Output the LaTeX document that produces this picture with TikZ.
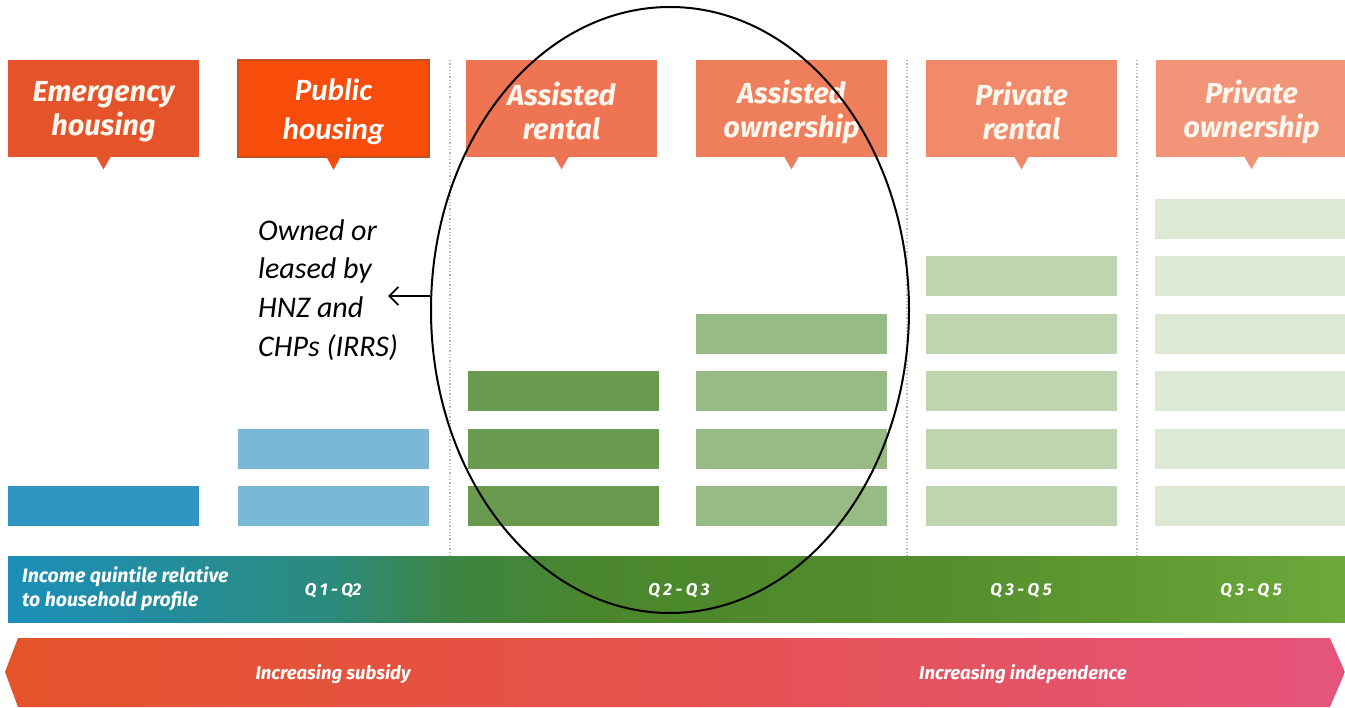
\documentclass[tikz,border=0pt]{standalone}
\usepackage{fontspec}
\setmainfont{Fira Sans}
\newfontfamily\carlito{Carlito}
\usetikzlibrary{shapes.geometric,arrows.meta}
\definecolor{hEm}{HTML}{E4532A}
\definecolor{hPub}{HTML}{F84C0A}
\definecolor{hPubB}{HTML}{C4521E}
\definecolor{hAR}{HTML}{EE7453}
\definecolor{hAO}{HTML}{EF7E5C}
\definecolor{hPR}{HTML}{F08A6B}
\definecolor{hPO}{HTML}{F29477}
\definecolor{bEm}{HTML}{2E96C0}
\definecolor{bPub}{HTML}{7BB8D6}
\definecolor{bAR}{HTML}{6A9A4E}
\definecolor{bAO}{HTML}{98BA85}
\definecolor{bPR}{HTML}{BED5B0}
\definecolor{bPO}{HTML}{DDE8D5}
\definecolor{dotc}{HTML}{B5C2A5}
\definecolor{txtw}{HTML}{FFF6EE}
\definecolor{ic1}{HTML}{1B8FBA}
\definecolor{ic2}{HTML}{2C8B7E}
\definecolor{ic3}{HTML}{3D8544}
\definecolor{ic4}{HTML}{4A862C}
\definecolor{ic5}{HTML}{528C2C}
\definecolor{ic6}{HTML}{5E9A32}
\definecolor{ic7}{HTML}{6DA83C}
\definecolor{ar1}{HTML}{E4532A}
\definecolor{ar2}{HTML}{E5524F}
\definecolor{ar3}{HTML}{E5547C}
\pgfdeclarehorizontalshading{incomeshade}{100bp}{color(0bp)=(ic1); color(25bp)=(ic1); color(37bp)=(ic2); color(41.5bp)=(ic3); color(47bp)=(ic4); color(58bp)=(ic5); color(67bp)=(ic6); color(75bp)=(ic7); color(100bp)=(ic7)}
\pgfdeclarehorizontalshading{arrowshade}{100bp}{color(0bp)=(ar1); color(25bp)=(ar1); color(50bp)=(ar2); color(75bp)=(ar3); color(100bp)=(ar3)}
\tikzset{
  headbox/.style={minimum width=191pt, minimum height=97pt, inner sep=0pt},
  headtext/.style={inner sep=0pt, text=txtw, align=center, font=\fontsize{29}{34}\selectfont\bfseries\itshape},
  bar/.style={minimum width=191pt, minimum height=40pt, inner sep=0pt, anchor=north west},
  sep/.style={draw=dotc, line width=1.3pt, dotted},
  wtext/.style={text=white, font=\bfseries\itshape},
  qtext/.style={text=white, font=\fontsize{17}{20}\selectfont\bfseries\itshape},
  atext/.style={text=white, font=\fontsize{18.5}{22}\selectfont\bfseries\itshape},
}
\newcommand{\qs}{\hspace{3.5pt}}
\begin{document}
\begin{tikzpicture}[x=1pt,y=-1pt]
\useasboundingbox (0,0) rectangle (1345,708);
\fill[white] (0,0) rectangle (1345,708);
% separators
\coordinate (s1t) at (450,60); \coordinate (s1b) at (450,622);
\coordinate (s2t) at (907,60); \coordinate (s2b) at (907,622);
\coordinate (s3t) at (1137,60); \coordinate (s3b) at (1137,622);
\draw[sep] (s1t) -- (s1b);
\draw[sep] (s2t) -- (s2b);
\draw[sep] (s3t) -- (s3b);
% headers
\node[headbox, fill=hEm] (hEm) at (103.5,108.5) {};
\node[headbox, fill=hPub, draw=hPubB, line width=1.5pt] (hPub) at (333.5,108.5) {};
\node[headbox, fill=hAR] (hAR) at (561.5,108.5) {};
\node[headbox, fill=hAO] (hAO) at (791.5,108.5) {};
\node[headbox, fill=hPR] (hPR) at (1021.5,108.5) {};
\node[headbox, fill=hPO] (hPO) at (1251.5,108.5) {};
\foreach \n/\c in {hEm/hEm,hAR/hAR,hAO/hAO,hPR/hPR,hPO/hPO}{
  \fill[\c] ([xshift=-7pt]\n.south) -- ([xshift=7pt]\n.south) -- ([yshift=-12pt]\n.south) -- cycle;
}
\fill[hPub] ([xshift=-7pt,yshift=0.75pt]hPub.south) -- ([xshift=7pt,yshift=0.75pt]hPub.south) -- ([yshift=-12pt]hPub.south) -- cycle;
\node[headtext] (tEm) at ([yshift=-3pt]hEm.center) {Emergency\\housing};
\node[headtext, text=white, font=\carlito\fontsize{31}{39}\selectfont\bfseries\itshape] (tPub) at ([yshift=-3pt]hPub.center) {Public\\housing};
\node[headtext] (tAR) at ([yshift=-3pt]hAR.center) {Assisted\\rental};
\node[headtext] (tAO) at ([yshift=-3pt]hAO.center) {Assisted\\ownership};
\node[headtext] (tPR) at ([yshift=-3pt]hPR.center) {Private\\rental};
\node[headtext] (tPO) at ([yshift=-3pt]hPO.center) {Private\\ownership};
% bars
\node[bar, fill=bEm] (e1) at (8,486) {};
\node[bar, fill=bPub] (p1) at (238,486) {};
\node[bar, fill=bPub] (p2) at (238,429) {};
\foreach \r/\y in {1/486,2/429,3/371}{\node[bar, fill=bAR] (ar\r) at (468,\y) {};}
\foreach \r/\y in {1/486,2/429,3/371,4/314}{\node[bar, fill=bAO] (ao\r) at (696,\y) {};}
\foreach \r/\y in {1/486,2/429,3/371,4/314,5/256}{\node[bar, fill=bPR] (pr\r) at (926,\y) {};}
\foreach \r/\y in {1/486,2/429,3/371,4/314,5/256,6/199}{\node[bar, fill=bPO, minimum width=190pt] (po\r) at (1155,\y) {};}
% income bar
\shade[shading=incomeshade] (8,556) rectangle (1345,622);
\node[wtext, anchor=west, align=left, inner sep=0pt, font=\fontsize{19.5}{23.5}\selectfont\bfseries\itshape] (inc) at (22,589) {Income quintile relative\\to household profile};
\node[qtext] (q1) at (333,591) {Q\qs1\qs-\qs Q2};
\node[qtext] (q2) at (679,591) {Q\qs2\qs-\qs Q\qs3};
\node[qtext] (q3) at (1021,591) {Q\qs3\qs-\qs Q\qs5};
\node[qtext] (q4) at (1251,591) {Q\qs3\qs-\qs Q\qs5};
% big arrow
\shade[shading=arrowshade] (5,672) -- (18,638) -- (1330,638) -- (1345,672) -- (1330,707) -- (18,707) -- cycle;
\node[atext] (sub) at (333,674) {Increasing subsidy};
\node[atext] (ind) at (1023,674) {Increasing independence};
% annotation
\node[anchor=north west, align=left, inner sep=0pt, font=\carlito\fontsize{30}{38.7}\selectfont\itshape] (note) at (258,219) {Owned or\\leased by\\HNZ and\\CHPs (IRRS)};
\node[draw=black, line width=2pt, ellipse, minimum width=478pt, minimum height=606pt, inner sep=0pt] (ell) at (670,310) {};
\coordinate (tip) at (388,296);
\draw[line width=1.8pt, -{Straight Barb[length=9pt,width=18pt]}] (ell.west |- tip) -- (tip);
\end{tikzpicture}
\end{document}
